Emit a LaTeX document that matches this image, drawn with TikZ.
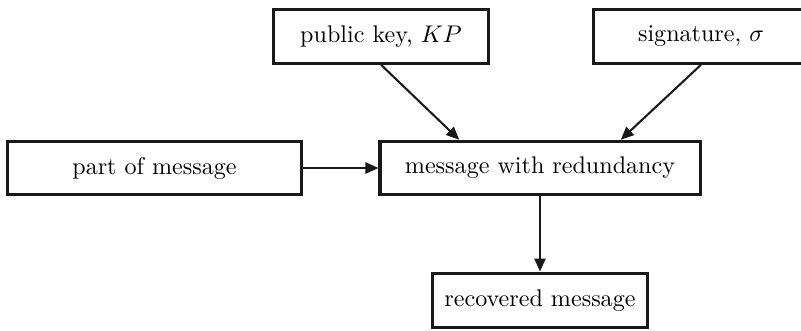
\documentclass[tikz,border=0pt]{standalone}
\usetikzlibrary{arrows.meta,calc}
\tikzset{
  blockbox/.style={draw=black!90, line width=1.25pt, rectangle, inner sep=0pt,
    minimum height=22.2pt, align=center},
  flow/.style={draw=black!90, line width=0.85pt,
    -{Triangle[length=5.4pt,width=4.6pt]}}
}
\begin{document}
\begin{tikzpicture}[x=0.415pt,y=-0.415pt]
  % page frame (the right-hand box runs off the edge)
  \useasboundingbox (0,0) rectangle (801,330);
  \clip (0,0) rectangle (801,330);

  \node[blockbox, minimum width=89.6pt] (pk)  at (381,36.5) {public key, $KP$};
  \node[blockbox, minimum width=89.6pt] (sig) at (701,36.5) {signature, $\sigma$};
  \node[blockbox, minimum width=122.4pt] (part) at (154.5,168) {part of message};
  \node[blockbox, minimum width=132.8pt] (msg)  at (540,168) {message with redundancy};
  \node[blockbox, minimum width=89.6pt, minimum height=22.8pt] (rec) at (540,300.5) {recovered message};

  % entry points on the top side of the central box
  \coordinate (inL) at ($(msg.north west)!0.25!(msg.north east)$);
  \coordinate (inR) at ($(msg.north west)!0.75!(msg.north east)$);

  \draw[flow] (pk.south) -- (inL);
  \draw[flow] (sig.south) -- (inR);
  \draw[flow] (part.east) -- (msg.west);
  \draw[flow] (msg.south) -- (rec.north);
\end{tikzpicture}
\end{document}
